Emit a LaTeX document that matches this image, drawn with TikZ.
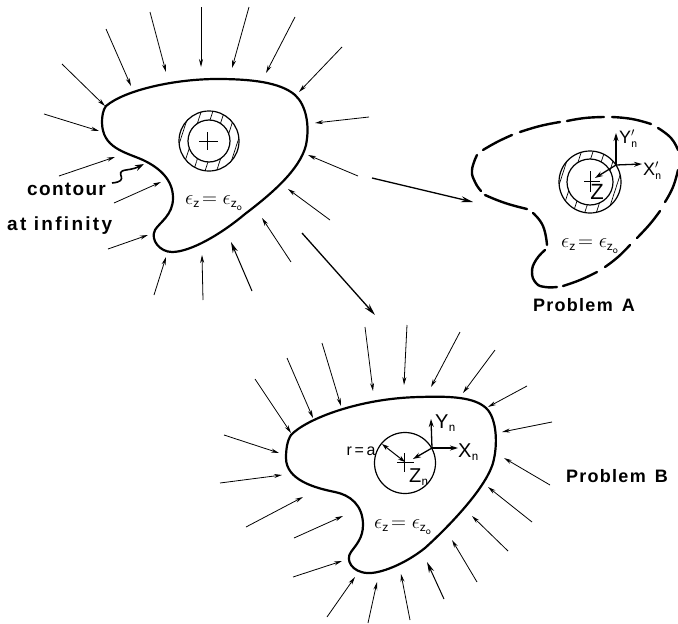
\documentclass[tikz,border=0pt]{standalone}
\usepackage{fontspec}
\setmainfont{Liberation Sans}
\usepackage{amsmath,amssymb}
\usetikzlibrary{arrows.meta,patterns.meta}

\newcommand{\epszo}{$\epsilon_{\mathsf{z}}\!=\epsilon_{\mathsf{z}_{\mathsf{o}}}$}

\begin{document}
\begin{tikzpicture}[
  x=1pt, y=-1pt,
  contour/.style={draw=black, line width=2.2pt, line cap=round},
  cutcontour/.style={contour, line width=2.4pt},
  inward/.style={-{Stealth[length=8pt, width=4pt]}, draw=black, line width=0.8pt},
  inwardheavy/.style={-{Stealth[length=11pt, width=5.5pt]}, draw=black, line width=1pt},
  leadto/.style={-{Stealth[length=12pt, width=6pt]}, draw=black, line width=1.3pt},
  axisarrow/.style={-{Stealth[length=8pt, width=5pt]}, draw=black, line width=1.3pt},
  ring/.style={draw=black, line width=1.2pt},
  ringhatch/.style={even odd rule, pattern={Lines[angle=72, distance=11pt, line width=0.7pt]}},
  crossmark/.style={draw=black, line width=0.7pt},
  caption/.style={font=\fontsize{18}{20}\addfontfeature{LetterSpace=7}\selectfont\bfseries, inner sep=0pt},
  contourcaption/.style={caption, font=\fontsize{19}{20}\addfontfeature{LetterSpace=7}\selectfont\bfseries},
  widecaption/.style={caption, font=\fontsize{19}{20}\addfontfeature{LetterSpace=12}\selectfont\bfseries},
  permit/.style={font=\fontsize{20}{22}\selectfont, inner sep=0pt},
  axislabel/.style={font=\fontsize{20}{22}\selectfont, inner sep=0pt},
  bigz/.style={font=\fontsize{22}{22}\selectfont, inner sep=0pt}
]
  \useasboundingbox (0,0) rectangle (678,624);

  % original body
  \draw[contour] (106,106) .. controls (125,90) and (175,79) .. (217,79)
    .. controls (250,79) and (280,82) .. (295,95)
    .. controls (306,105) and (310,125) .. (306,145)
    .. controls (300,170) and (270,195) .. (245,214)
    .. controls (220,235) and (190,252) .. (172,252)
    .. controls (160,252) and (150,240) .. (155,230)
    .. controls (160,222) and (173,215) .. (173,198)
    .. controls (173,180) and (160,168) .. (143,160)
    .. controls (125,152) and (102,148) .. (102,122)
    .. controls (102,116) and (103,110) .. (106,106) -- cycle;
  \path[ringhatch] (209,141) circle (30) (209,141) circle (21);
  \draw[ring] (209,141) circle (30);
  \draw[ring] (209,141) circle (21);
  \draw[crossmark] (199,141) -- (218,141) (207,132) -- (207,150);
  \node[permit] (perm) at (214,203) {\epszo};

  \draw[inward] (62,64) -- (105,106);
  \draw[inward] (106,29) -- (131,86);
  \draw[inward] (150,12) -- (166,72);
  \draw[inward] (201,7) -- (201,67);
  \draw[inward] (249,7) -- (232,68);
  \draw[inward] (295,17) -- (266,73);
  \draw[inward] (342,47) -- (299,92);
  \draw[inward] (369,117) -- (315,123);
  \draw[inward] (358,176) -- (308,155);
  \draw[inward] (330,220) -- (288,189);
  \draw[inward] (291,262) -- (262,218);
  \draw[inwardheavy] (252,291) -- (231,242);
  \draw[inward] (203,300) -- (202,255);
  \draw[inward] (154,295) -- (166,257);
  \draw[inward] (108,249) -- (148,235);
  \draw[inward] (114,203) -- (161,182);
  \draw[inward] (59,176) -- (115,157);
  \draw[inward] (44,114) -- (99,131);

  \node[contourcaption, anchor=base west] (contourlabel) at (27,195) {contour};
  \node[widecaption, anchor=base west] (infinity) at (7,230) {at infinity};
  \draw[leadto, line width=1.6pt, -{Stealth[length=9pt, width=6pt]}] (112,183) .. controls (132,181) and (112,172) .. (126,170) .. controls (133,169) and (136,168) .. (144,164);

  \draw[leadto] (372,178) -- (473,202);
  \draw[leadto] (302,233) -- (375,315);

  % problem A
  \draw[cutcontour] plot[smooth, tension=0.8] coordinates {(483,150) (497,142) (512,135)};
  \draw[cutcontour] plot[smooth, tension=0.8] coordinates {(520,132) (540,126) (560,122)};
  \draw[cutcontour] plot[smooth, tension=0.8] coordinates {(567,121) (585,118) (604,117)};
  \draw[cutcontour] plot[smooth, tension=0.8] coordinates {(612,117) (632,119) (651,124)};
  \draw[cutcontour] plot[smooth, tension=0.8] coordinates {(658,128) (671,138) (678,150)};
  \draw[cutcontour] plot[smooth, tension=0.8] coordinates {(665,202) (673,187) (678,170)};
  \draw[cutcontour] plot[smooth, tension=0.8] coordinates {(637,238) (650,224) (660,211)};
  \draw[cutcontour] plot[smooth, tension=0.8] coordinates {(605,267) (618,257) (630,245)};
  \draw[cutcontour] plot[smooth, tension=0.8] coordinates {(563,286) (580,280) (597,272)};
  \draw[cutcontour] plot[smooth, tension=0.8] coordinates {(545,250) (536,260) (532,272) (536,283) (545,287) (557,287)};
  \draw[cutcontour] plot[smooth, tension=0.8] coordinates {(533,213) (543,226) (547,245)};
  \draw[cutcontour] plot[smooth, tension=0.8] coordinates {(485,195) (505,203) (527,209)};
  \draw[cutcontour] plot[smooth, tension=0.8] coordinates {(477,155) (472,170) (475,182) (481,191)};
  \path[ringhatch] (590,182) circle (31) (590,182) circle (23);
  \draw[ring] (590,182) circle (31);
  \draw[ring] (590,182) circle (23);
  \draw[crossmark] (584,181) -- (600,181) (590,171) -- (590,192);
  \draw[axisarrow] (616,165) -- (616,133);
  \draw[axisarrow] (616,165) -- (642,164);
  \draw[axisarrow] (616,165) -- (595,178);
  \node[axislabel, anchor=base west, font=\fontsize{18}{20}\selectfont] (yaprime) at (619,143) {Y$_{\mathsf{n}}'$};
  \node[axislabel, anchor=base west, font=\fontsize{18}{20}\selectfont] (xaprime) at (643,175) {X$_{\mathsf{n}}'$};
  \node[bigz, anchor=center] (za) at (597,192) {Z};
  \node[permit] (perma) at (590,246) {\epszo};
  \node[caption, anchor=base west] (problema) at (533,311) {Problem\,\,\,A};

  % problem B
  \draw[contour] (291,435) .. controls (306,419) and (360,398) .. (420,397)
    .. controls (450,396) and (474,397) .. (486,408)
    .. controls (497,418) and (498,445) .. (493,463)
    .. controls (485,490) and (445,530) .. (425,548)
    .. controls (405,564) and (380,574) .. (367,573)
    .. controls (352,572) and (345,560) .. (351,552)
    .. controls (356,545) and (363,538) .. (363,525)
    .. controls (363,505) and (350,495) .. (335,492)
    .. controls (315,488) and (286,480) .. (286,458)
    .. controls (286,450) and (287,441) .. (291,435) -- cycle;
  \draw[ring] (405,463) circle (30.5);
  \draw[crossmark] (397,462) -- (414,462) (404,453) -- (404,472);
  \draw[axisarrow] (432,448) -- (431,419);
  \draw[axisarrow] (432,448) -- (458,448);
  \draw[axisarrow] (432,448) -- (413,459);
  \draw[{Stealth[length=7pt, width=4.5pt]}-{Stealth[length=7pt, width=4.5pt]}, draw=black, line width=1pt] (382,444) -- (405,462);
  \node[axislabel, anchor=base west] (yb) at (435,428) {Y$_{\mathsf{n}}$};
  \node[axislabel, anchor=base west] (xb) at (458,457) {X$_{\mathsf{n}}$};
  \node[axislabel, anchor=base west] (zb) at (409,482) {Z$_{\mathsf{n}}$};
  \node[font=\fontsize{16}{18}\selectfont, inner sep=0pt] (ra) at (361,451) {r\,=\,a};
  \node[permit] (permb) at (403,527) {\epszo};
  \node[caption, anchor=base west] (problemb) at (566,482) {Problem\,\,\,B};

  \draw[inward] (255,379) -- (291,433);
  \draw[inward] (287,358) -- (313,418);
  \draw[inward] (322,343) -- (341,406);
  \draw[inward] (365,327) -- (373,391);
  \draw[inward] (407,325) -- (404,385);
  \draw[inward] (460,332) -- (431,387);
  \draw[inward] (495,350) -- (463,393);
  \draw[inward] (527,386) -- (488,407);
  \draw[inward] (552,422) -- (502,432);
  \draw[inward] (550,485) -- (504,458);
  \draw[inward] (532,522) -- (488,487);
  \draw[inward] (508,551) -- (472,516);
  \draw[inward] (477,582) -- (452,540);
  \draw[inwardheavy] (444,599) -- (427,562);
  \draw[inward] (410,620) -- (401,574);
  \draw[inward] (368,623) -- (377,582);
  \draw[inward] (327,617) -- (355,577);
  \draw[inward] (293,577) -- (342,561);
  \draw[inward] (294,538) -- (343,516);
  \draw[inward] (246,527) -- (303,497);
  \draw[inward] (220,483) -- (282,475);
  \draw[inward] (224,435) -- (279,453);
\end{tikzpicture}
\end{document}
